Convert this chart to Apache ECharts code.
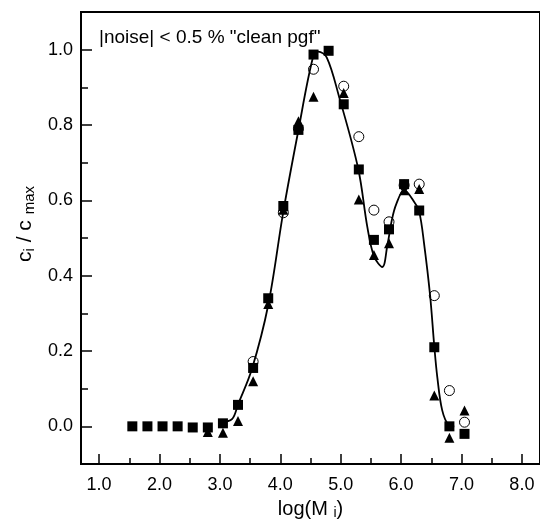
<!DOCTYPE html>
<html><head><meta charset="utf-8">
<script src="https://cdn.jsdelivr.net/npm/echarts@6/dist/echarts.min.js"></script>
<style>html,body{margin:0;padding:0;background:#fff}#c{width:540px;height:525px}</style>
</head><body><div id="c"></div>
<script>
// tick labels / positions
const xMajorTicks = [1, 2, 3, 4, 5, 6, 7, 8];
const xMinorTicks = [1.5, 2.5, 3.5, 4.5, 5.5, 6.5, 7.5];
const yMajorTicks = [0, 0.2, 0.4, 0.6, 0.8, 1.0];
const yMinorTicks = [0.1, 0.3, 0.5, 0.7, 0.9];

// filled squares
const sqX = [1.55, 1.8, 2.05, 2.3, 2.55, 2.8, 3.05, 3.3, 3.55, 3.8, 4.05, 4.3, 4.55, 4.8, 5.05, 5.3, 5.55, 5.8, 6.05, 6.3, 6.55, 6.8, 7.05];
const sqY = [0, 0, 0, 0, -0.003, -0.003, 0.008, 0.057, 0.155, 0.34, 0.585, 0.787, 0.987, 0.997, 0.855, 0.682, 0.495, 0.523, 0.643, 0.573, 0.21, 0.0, -0.02];

// filled triangles
const triX = [2.8, 3.05, 3.3, 3.55, 3.8, 4.05, 4.3, 4.55, 5.05, 5.3, 5.55, 5.8, 6.05, 6.3, 6.55, 6.8, 7.05];
const triY = [-0.015, -0.017, 0.014, 0.12, 0.325, 0.575, 0.81, 0.875, 0.885, 0.602, 0.455, 0.486, 0.627, 0.63, 0.082, -0.03, 0.042];

// open circles
const cirX = [3.55, 4.05, 4.3, 4.55, 5.05, 5.3, 5.55, 5.8, 6.05, 6.3, 6.55, 6.8, 7.05];
const cirY = [0.172, 0.567, 0.79, 0.948, 0.903, 0.769, 0.574, 0.543, 0.64, 0.643, 0.347, 0.095, 0.011];

// fitted curve
const fitX = [3.02, 3.2, 3.3, 3.53, 3.8, 4.05, 4.29, 4.54, 4.63, 4.77, 4.97, 5.29, 5.44, 5.55, 5.69, 5.77, 5.85, 5.92, 6.05, 6.22, 6.3, 6.38, 6.48, 6.55, 6.6, 6.68, 6.79, 6.88];
const fitY = [0.011, 0.019, 0.058, 0.152, 0.322, 0.57, 0.778, 0.979, 0.995, 0.979, 0.877, 0.684, 0.53, 0.452, 0.423, 0.478, 0.55, 0.59, 0.627, 0.595, 0.57, 0.486, 0.348, 0.212, 0.13, 0.043, 0.003, 0.0];

const zip = (a, b) => a.map((v, i) => [v, b[i]]);
const FONT = 'Liberation Sans, Arial, sans-serif';

const chart = echarts.init(document.getElementById('c'), null, {renderer: 'canvas'});
const fmt = v => v.toFixed(1);

chart.setOption({
  animation: false,
  backgroundColor: '#fff',
  title: {
    text: '|noise| < 0.5 % "clean pgf"',
    left: 99, top: 28, padding: 0,
    textStyle: {fontFamily: FONT, fontSize: 19, fontWeight: 'normal', color: '#000'}
  },
  grid: {left: 81, top: 12, width: 460, height: 459, show: true, borderColor: '#000', borderWidth: 2, containLabel: false},
  xAxis: [{
    type: 'value', min: 0.7, max: 8.3, gridIndex: 0, position: 'bottom',
    axisLine: {show: false, onZero: false},
    splitLine: {show: false},
    axisTick: {show: true, inside: true, length: 10, customValues: xMajorTicks, lineStyle: {color: '#000', width: 1.5}},
    axisLabel: {show: true, customValues: xMajorTicks, formatter: fmt, margin: 12, fontFamily: FONT, fontSize: 18, color: '#000'},
    name: '{a|log(M }{s|i}{a|)}',
    nameLocation: 'middle', nameGap: 34,
    nameTextStyle: {
      rich: {
        a: {fontFamily: FONT, fontSize: 20, color: '#000'},
        s: {fontFamily: FONT, fontSize: 14, color: '#000', padding: [8, 0, 0, 0]}
      }
    }
  }, {
    type: 'value', min: 0.7, max: 8.3, gridIndex: 0, position: 'bottom',
    axisLine: {show: false, onZero: false}, splitLine: {show: false}, axisLabel: {show: false},
    axisTick: {show: true, inside: true, length: 6, customValues: xMinorTicks, lineStyle: {color: '#000', width: 1.5}}
  }],
  yAxis: [{
    type: 'value', min: -0.1, max: 1.1, gridIndex: 0, position: 'left',
    axisLine: {show: true, onZero: false, lineStyle: {color: '#000', width: 2}},
    splitLine: {show: false},
    axisTick: {show: true, inside: true, length: 11, customValues: yMajorTicks, lineStyle: {color: '#000', width: 1.5}},
    axisLabel: {show: true, customValues: yMajorTicks, formatter: fmt, margin: 8, fontFamily: FONT, fontSize: 18, color: '#000'},
    name: '{a|c}{s|i}{a| / c }{s|max}',
    nameLocation: 'middle', nameRotate: 90, nameGap: 44,
    nameTextStyle: {
      padding: [0, 0, 0, 28],
      rich: {
        a: {fontFamily: FONT, fontSize: 21, color: '#000'},
        s: {fontFamily: FONT, fontSize: 15, color: '#000', padding: [9, 0, 0, 0]}
      }
    }
  }, {
    type: 'value', min: -0.1, max: 1.1, gridIndex: 0, position: 'left',
    axisLine: {show: false, onZero: false}, splitLine: {show: false}, axisLabel: {show: false},
    axisTick: {show: true, inside: true, length: 7, customValues: yMinorTicks, lineStyle: {color: '#000', width: 1.5}}
  }],
  series: [{
    type: 'scatter', name: 'circles', data: zip(cirX, cirY),
    symbol: 'circle', symbolSize: 10,
    itemStyle: {color: '#fff', borderColor: '#000', borderWidth: 1, opacity: 1}, z: 2
  }, {
    type: 'scatter', name: 'triangles', data: zip(triX, triY),
    symbol: 'triangle', symbolSize: 10,
    itemStyle: {color: '#000', opacity: 1}, z: 3
  }, {
    type: 'scatter', name: 'squares', data: zip(sqX, sqY),
    symbol: 'rect', symbolSize: 10,
    itemStyle: {color: '#000', opacity: 1}, z: 4
  }, {
    type: 'line', name: 'fit', data: zip(fitX, fitY),
    smooth: 0.35, showSymbol: false, symbol: 'none',
    lineStyle: {color: '#000', width: 1.8}, z: 5
  }]
});
</script>
</body></html>
